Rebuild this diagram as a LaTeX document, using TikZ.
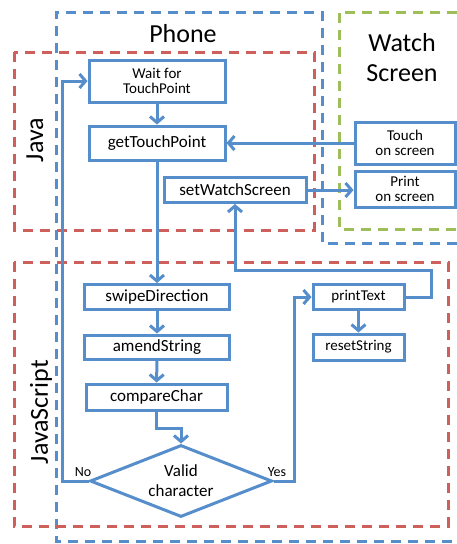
\documentclass[tikz,border=0pt]{standalone}
\usepackage{fontspec}
\setmainfont{Carlito}
\usetikzlibrary{arrows.meta,shapes.geometric}
\definecolor{flowblue}{RGB}{86,141,203}
\definecolor{zonered}{RGB}{206,96,92}
\definecolor{zonegreen}{RGB}{158,190,92}
\tikzset{
  zone/.style={line width=3pt,dash pattern=on 10pt off 7pt},
  stepbox/.style={draw=flowblue,line width=3pt,inner sep=0pt,align=center,
    font=\fontsize{17}{17}\selectfont},
  smallbox/.style={stepbox,font=\fontsize{15}{15}\selectfont},
  decision/.style={diamond,draw=flowblue,line width=3pt,inner sep=0pt,aspect=2.5,
    align=center,minimum width=182pt,minimum height=72pt,
    font=\fontsize{17}{20}\selectfont},
  arr/.style={draw=flowblue,line width=3pt,
    -{Straight Barb[length=6pt,width=14pt,line width=3pt]}},
  zonelabel/.style={font=\fontsize{26}{30}\selectfont,align=center,inner sep=0pt},
  branch/.style={font=\fontsize{14}{14}\selectfont,inner sep=0pt}
}
\begin{document}
\begin{tikzpicture}[x=1pt,y=-1pt]
\useasboundingbox (0,0) rectangle (457,544);

% execution zones
\draw[zone,draw=flowblue] (457,243) -- (322,243) -- (322,12) -- (56,12) -- (56,541) -- (457,541);
\draw[zone,draw=zonegreen] (457,12) -- (339,12) -- (339,229) -- (457,229);
\draw[zone,draw=zonered] (14,52) rectangle (314,230);
\draw[zone,draw=zonered] (14,262) rectangle (448,526);

\node[zonelabel] (phone) at (183,34) {Phone};
\node[zonelabel] (watch) at (402,58) {Watch\\Screen};
\node[zonelabel,rotate=90] (java) at (35,140) {Java};
\node[zonelabel,rotate=90] (js) at (41,412) {JavaScript};

% Java steps
\node[smallbox,minimum width=136pt,minimum height=42pt] (wait) at (157,81) {Wait for\\TouchPoint};
\node[stepbox,minimum width=136pt,minimum height=34pt] (get) at (157,143) {getTouchPoint};
\node[stepbox,minimum width=142pt,minimum height=25pt] (setw) at (235,190) {setWatchScreen};

% watch screen events
\node[smallbox,minimum width=100pt,minimum height=42pt] (touch) at (405,143) {Touch\\on screen};
\node[smallbox,minimum width=100pt,minimum height=36pt] (prnt) at (405,189) {Print\\on screen};

% JavaScript steps
\node[stepbox,minimum width=145pt,minimum height=25pt] (swipe) at (157,297) {swipeDirection};
\node[stepbox,minimum width=145pt,minimum height=24pt] (amend) at (157,347) {amendString};
\node[stepbox,minimum width=141pt,minimum height=26pt] (comp) at (156.5,397) {compareChar};
\node[decision] (valid) at (181,481) {Valid\\character};
\node[smallbox,minimum width=91pt,minimum height=25pt] (ptext) at (358.5,297) {printText};
\node[smallbox,minimum width=91pt,minimum height=26pt] (reset) at (358.5,347) {resetString};

\node[branch] (no) at (83,472) {No};
\node[branch] (yes) at (277,472) {Yes};

% flow
\draw[arr] (wait) -- (get);
\draw[arr] (get) -- (swipe);
\draw[arr] (swipe) -- (amend);
\draw[arr] (amend) -- (comp);
\draw[arr] (comp.south) -- ++(0,17) -| (valid.north);
\draw[arr] (valid.west) -- ++(-26,0) |- (wait.west);
\draw[arr] (valid.east) -- ++(21,0) |- (ptext.west);
\draw[arr] (ptext) -- (reset);
\draw[arr] (ptext.east) -- ++(26,0) -- ++(0,-27) -| (setw.south);
\draw[arr] (setw.east) -- (setw.east -| prnt.west);
\draw[arr] (touch.west) -- (get.east);
\end{tikzpicture}
\end{document}
